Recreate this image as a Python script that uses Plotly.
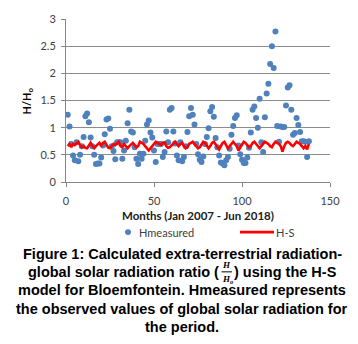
import plotly.graph_objects as go

# ---- data ----
months = list(range(1, 139))  # Jan 2007 .. Jun 2018

h_measured = [
    1.24, 1.02, 0.70, 0.49, 0.40, 0.73, 0.38, 0.50, 0.66, 0.83, 1.21, 1.26,
    1.10, 0.82, 0.66, 0.50, 0.33, 0.34, 0.34, 0.45, 0.67, 0.88, 1.15, 1.17,
    0.98, 0.66, 0.57, 0.42, 0.73, 0.73, 0.73, 0.43, 0.58, 0.76, 1.08, 1.33,
    0.93, 0.91, 0.64, 0.43, 0.33, 0.52, 0.43, 0.52, 0.76, 1.06, 1.13, 0.91,
    0.82, 0.58, 0.37, 0.70, 0.70, 0.70, 0.46, 0.55,
    0.93, 0.73, 1.33, 1.36, 0.93, 0.71, 0.49, 0.40, 0.73, 0.38, 0.46, 0.66,
    0.92, 1.21, 1.36, 1.24, 1.06, 0.70, 0.51, 0.41, 0.37, 0.47, 0.70, 0.83,
    0.99, 1.30, 1.38, 1.20, 0.81, 0.64, 0.49, 0.36, 0.34, 0.31, 0.40, 0.46,
    0.61, 0.87, 1.03, 1.18, 1.23,
    0.67, 0.51, 0.41, 0.35, 0.35, 0.45, 0.63, 0.91,
    1.33, 1.39, 1.18, 1.00, 1.53, 0.73, 0.55, 1.19, 1.63, 1.81, 2.17, 2.50,
    2.10, 2.77,
    1.03, 0.74, 1.02, 1.01, 1.01, 1.41, 1.74, 1.78, 1.33, 0.87, 0.90, 1.18,
    1.05, 0.92, 0.75, 0.75, 0.74, 0.46, 0.75,
]

h_s = [
    0.66, 0.70, 0.64, 0.70, 0.68, 0.72, 0.74, 0.68, 0.64, 0.66, 0.63, 0.62,
    0.68, 0.72, 0.66, 0.62, 0.66, 0.70, 0.72, 0.66, 0.72, 0.74, 0.68, 0.63,
    0.62, 0.66, 0.70, 0.68, 0.72, 0.74, 0.66, 0.64, 0.70, 0.66, 0.62, 0.66,
    0.70, 0.72, 0.68, 0.64, 0.66, 0.74, 0.72, 0.70, 0.66, 0.62, 0.58, 0.62,
    0.66, 0.70, 0.74, 0.72, 0.70, 0.68, 0.72, 0.73, 0.66, 0.63, 0.64, 0.68,
    0.72, 0.74, 0.70, 0.66, 0.70, 0.72, 0.66, 0.62, 0.64, 0.70, 0.72, 0.74,
    0.70, 0.66, 0.62, 0.64, 0.70, 0.74, 0.72, 0.66, 0.62, 0.66, 0.72, 0.74,
    0.70, 0.66, 0.60, 0.66, 0.72, 0.74, 0.68, 0.62, 0.66, 0.70, 0.74, 0.70,
    0.66, 0.58, 0.64, 0.70, 0.74, 0.72, 0.68, 0.64, 0.66, 0.72, 0.74, 0.70,
    0.66, 0.62, 0.66, 0.70, 0.74, 0.72, 0.70, 0.66, 0.64, 0.70, 0.74, 0.72,
    0.70, 0.66, 0.56, 0.66, 0.72, 0.74, 0.72, 0.68, 0.66, 0.70, 0.74, 0.72,
    0.70, 0.66, 0.62, 0.66, 0.60, 0.70,
]

series_names = ["Hmeasured", "H-S"]
x_ticks = [0, 50, 100, 150]
y_ticks = [0, 0.5, 1, 1.5, 2, 2.5, 3]
y_tick_text = ["0", "0.5", "1", "1.5", "2", "2.5", "3"]
x_title = "Months (Jan 2007 - Jun 2018)"

caption_lines = [
    "Figure 1: Calculated extra-terrestrial radiation-",
    "model for Bloemfontein. Hmeasured represents",
    "the observed values of global solar radiation for",
    "the period.",
]
caption_line2_left = "global solar radiation ratio ("
caption_line2_right = ") using the H-S"

# ---- figure ----
W, H = 358, 344
ML, MR, MT, MB = 66, 28, 16, 162
PW, PH = W - ML - MR, H - MT - MB

BLUE = "#4f81bd"
RED = "#ff0000"


def px(x):
    return (x - ML) / PW


def py(y):
    return (H - MB - y) / PH


fig = go.Figure()
fig.add_trace(go.Scatter(
    x=months, y=h_measured, mode="markers", name=series_names[0],
    marker=dict(color=BLUE, size=6, line=dict(width=0)), showlegend=False,
))
fig.add_trace(go.Scatter(
    x=months, y=h_s, mode="lines", name=series_names[1],
    line=dict(color=RED, width=2.6), showlegend=False,
))

FONT = "Lato, Open Sans, sans-serif"
axis_font = dict(family=FONT, size=11, color="#404040")

fig.update_layout(
    width=W, height=H,
    margin=dict(l=ML, r=MR, t=MT, b=MB, pad=0),
    paper_bgcolor="white", plot_bgcolor="white",
    xaxis=dict(
        range=[0, 150], tickvals=x_ticks, ticks="outside", ticklen=4,
        tickcolor="#868686", showline=True, linecolor="#868686", linewidth=1,
        showgrid=False, zeroline=False, tickfont=axis_font,
        ticklabelstandoff=5,
    ),
    yaxis=dict(
        range=[0, 3], tickvals=y_ticks, ticktext=y_tick_text, ticks="outside",
        ticklen=4, tickcolor="#868686", showline=True, linecolor="#868686",
        linewidth=1, showgrid=True, gridcolor="#8c8c8c", gridwidth=1,
        zeroline=False, tickfont=axis_font, ticklabelstandoff=3,
    ),
)

# axis titles
fig.add_annotation(text="<b>" + x_title + "</b>", xref="paper", yref="paper",
                   x=px(198), y=py(216), xanchor="center", yanchor="middle",
                   showarrow=False, font=dict(family=FONT, size=11.5, color="#202020"))
fig.add_annotation(text="<b>H/H<sub>o</sub></b>", xref="paper", yref="paper",
                   x=px(27), y=py(100), xanchor="center", yanchor="middle",
                   textangle=-90, showarrow=False,
                   font=dict(family=FONT, size=11, color="#000000"))

# legend (drawn manually to match spacing)
fig.add_shape(type="circle", xref="paper", yref="paper",
              x0=px(125), x1=px(131), y0=py(236), y1=py(230),
              fillcolor=BLUE, line=dict(width=0))
fig.add_annotation(text=series_names[0], xref="paper", yref="paper",
                   x=px(137), y=py(233), xanchor="left", yanchor="middle",
                   showarrow=False, font=dict(family=FONT, size=11, color="#404040"))
fig.add_shape(type="line", xref="paper", yref="paper",
              x0=px(240), x1=px(274), y0=py(233), y1=py(233),
              line=dict(color=RED, width=2.6))
fig.add_annotation(text=series_names[1], xref="paper", yref="paper",
                   x=px(274), y=py(233), xanchor="left", yanchor="middle",
                   showarrow=False, font=dict(family=FONT, size=11, color="#404040"))

# caption
cap_font = dict(family="Liberation Sans, Arial, sans-serif", size=14.5, color="#000000")
cap_y = [255, 291.5, 311, 329.5]
for txt, yy in zip(caption_lines, cap_y):
    fig.add_annotation(
        text="<b>" + txt + "</b>", xref="paper", yref="paper",
        x=px(182), y=py(yy), xanchor="center", yanchor="middle",
        showarrow=False, font=cap_font,
    )

# line 2 with inline fraction H / H_o
fig.add_annotation(text="<b>" + caption_line2_left + "</b>", xref="paper", yref="paper",
                   x=px(221), y=py(273.5), xanchor="right", yanchor="middle",
                   showarrow=False, font=cap_font)
fig.add_annotation(text="<b>" + caption_line2_right + "</b>", xref="paper", yref="paper",
                   x=px(232), y=py(273.5), xanchor="left", yanchor="middle",
                   showarrow=False, font=cap_font)
frac_font = dict(family="Liberation Serif, serif", size=9, color="#000000")
fig.add_annotation(text="<b><i>H</i></b>", xref="paper", yref="paper",
                   x=px(226.5), y=py(266.5), xanchor="center", yanchor="middle",
                   showarrow=False, font=frac_font)
fig.add_annotation(text="<b><i>H<sub>o</sub></i></b>", xref="paper", yref="paper",
                   x=px(227.5), y=py(281), xanchor="center", yanchor="middle",
                   showarrow=False, font=frac_font)
fig.add_shape(type="line", xref="paper", yref="paper",
              x0=px(221.5), x1=px(232), y0=py(273.5), y1=py(273.5),
              line=dict(color="#000000", width=1))

fig.write_html("out.html", config={"displayModeBar": False},
               post_script="document.body.style.margin='0';")
